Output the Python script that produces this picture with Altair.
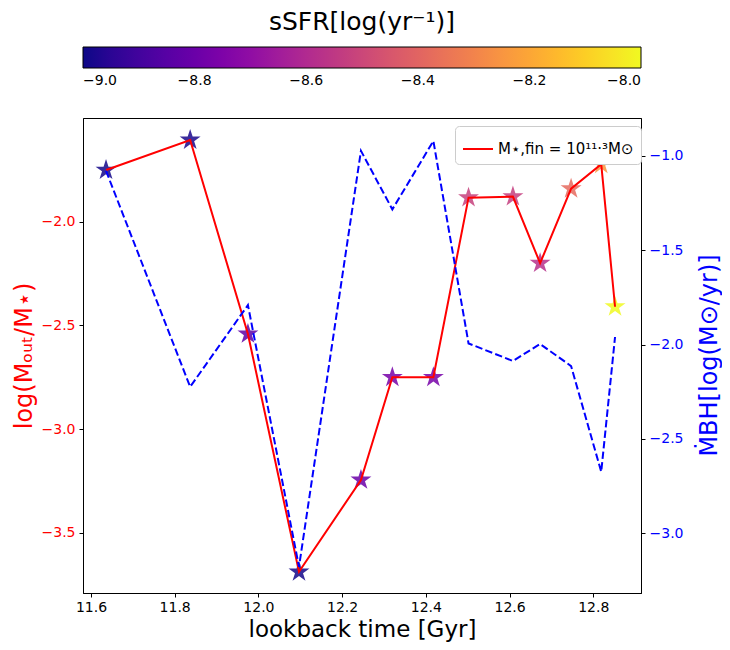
import altair as alt
import pandas as pd

# ---- data ----
lookback_time = [11.636, 11.837, 11.975, 12.097, 12.245, 12.320, 12.418,
                 12.502, 12.608, 12.673, 12.747, 12.819, 12.852]
log_mout = [-1.751, -1.606, -2.541, -3.688, -3.245, -2.750, -2.750,
            -1.884, -1.879, -2.200, -1.841, -1.723, -2.410]
log_mbh = [-1.08, -2.224, -1.791, -3.177, -0.974, -1.284, -0.922,
           -1.994, -2.087, -1.997, -2.114, -2.674, -1.960]
ssfr = [-8.99, -8.98, -8.83, -8.99, -8.80, -8.77, -8.77,
        -8.52, -8.53, -8.58, -8.38, -8.25, -8.00]
x_ticks = [11.6, 11.8, 12.0, 12.2, 12.4, 12.6, 12.8]
yl_ticks = [-3.5, -3.0, -2.5, -2.0]
yr_ticks = [-3.0, -2.5, -2.0, -1.5, -1.0]
cb_ticks = [-9.0, -8.8, -8.6, -8.4, -8.2, -8.0]
legend_label = "M⋆,fin = 10¹¹·³M⊙"

df = pd.DataFrame({
    "time": lookback_time,
    "mout": log_mout,
    "mbh": log_mbh,
    "ssfr": ssfr,
    "order": list(range(len(lookback_time))),
    "label": [legend_label] * len(lookback_time),
})

FONT = "DejaVu Sans"
STAR = ("M0,-1L0.2245,-0.309L0.9511,-0.309L0.3633,0.118L0.5878,0.809"
        "L0,0.382L-0.5878,0.809L-0.3633,0.118L-0.9511,-0.309L-0.2245,-0.309Z")

xscale = alt.Scale(domain=[11.581, 12.914], nice=False, zero=False)
xaxis = alt.Axis(title="lookback time [Gyr]", values=x_ticks, format=".1f",
                 labelFontSize=14, titleFontSize=23, labelPadding=3,
                 titlePadding=4, grid=False, titleFontWeight="normal")
yl_scale = alt.Scale(domain=[-3.79, -1.50], nice=False, zero=False)
yl_axis = alt.Axis(orient="left", title="log(Mₒᵤₜ/M⋆)", values=yl_ticks,
                   format=".1f", labelColor="red", titleColor="red",
                   labelFontSize=14, titleFontSize=24, grid=False,
                   labelPadding=4, titlePadding=5, titleFontWeight="normal")
yr_scale = alt.Scale(domain=[-3.316, -0.80], nice=False, zero=False)
yr_axis = alt.Axis(orient="right", title="ṀBH[log(M⊙/yr)]", values=yr_ticks,
                   format=".1f", labelColor="blue", titleColor="blue",
                   labelFontSize=14, titleFontSize=24, grid=False,
                   labelPadding=4, titleAngle=270, titleX=68, titleY=237,
                   titleAlign="center", titleBaseline="middle",
                   titleFontWeight="normal")

base = alt.Chart(df)
x_enc = alt.X("time:Q", scale=xscale, axis=xaxis)

stars = base.mark_point(shape=STAR, filled=True, size=484, fillOpacity=0.85,
                        strokeWidth=0).encode(
    x=x_enc,
    y=alt.Y("mout:Q", scale=yl_scale, axis=yl_axis),
    color=alt.Color(
        "ssfr:Q",
        scale=alt.Scale(scheme="plasma", domain=[-9, -8]),
        legend=alt.Legend(
            title="sSFR[log(yr⁻¹)]", orient="none", legendX=0, legendY=-108,
            direction="horizontal", gradientLength=558, gradientThickness=21,
            gradientStrokeColor="black", gradientStrokeWidth=1,
            gradientOpacity=1, titleLimit=600,
            titleAnchor="middle", titleFontSize=25, titleFontWeight="normal",
            titlePadding=12, values=cb_ticks, format=".1f", labelFontSize=14,
            labelAlign="center", labelOffset=6, labelColor="black",
            padding=0, titleColor="black",
        ),
    ),
)

red_line = base.mark_line(strokeWidth=2).encode(
    x=x_enc,
    y=alt.Y("mout:Q", scale=yl_scale, axis=yl_axis),
    order="order:Q",
    stroke=alt.Stroke(
        "label:N",
        scale=alt.Scale(range=["red"]),
        legend=alt.Legend(
            title=None, orient="none", legendX=372, legendY=8,
            symbolType="stroke", symbolSize=900, symbolStrokeWidth=2,
            labelFontSize=15, padding=7, strokeColor="#cccccc",
            fillColor="white", cornerRadius=4, labelColor="black",
            labelLimit=300,
        ),
    ),
)

blue_line = base.mark_line(color="blue", strokeWidth=2,
                           strokeDash=[7.4, 3.2]).encode(
    x=x_enc,
    y=alt.Y("mbh:Q", scale=yr_scale, axis=yr_axis),
    order="order:Q",
)

left = alt.layer(stars, red_line)
chart = alt.layer(left, blue_line).resolve_scale(
    y="independent", color="independent", stroke="independent"
).properties(
    width=558, height=475,
    autosize=alt.AutoSizeParams(type="none"),
    padding={"left": 75, "top": 110, "right": 81, "bottom": 49},
).configure(
    background="white", font=FONT
).configure_view(
    stroke="black", strokeWidth=1
).configure_axis(
    labelFont=FONT, titleFont=FONT, titleFontWeight="normal",
    domainColor="black", tickColor="black", tickSize=4, tickWidth=1,
    labelColor="black", titleColor="black",
).configure_legend(
    labelFont=FONT, titleFont=FONT,
)

chart.save("out.html", embed_options={"renderer": "svg", "actions": False})
